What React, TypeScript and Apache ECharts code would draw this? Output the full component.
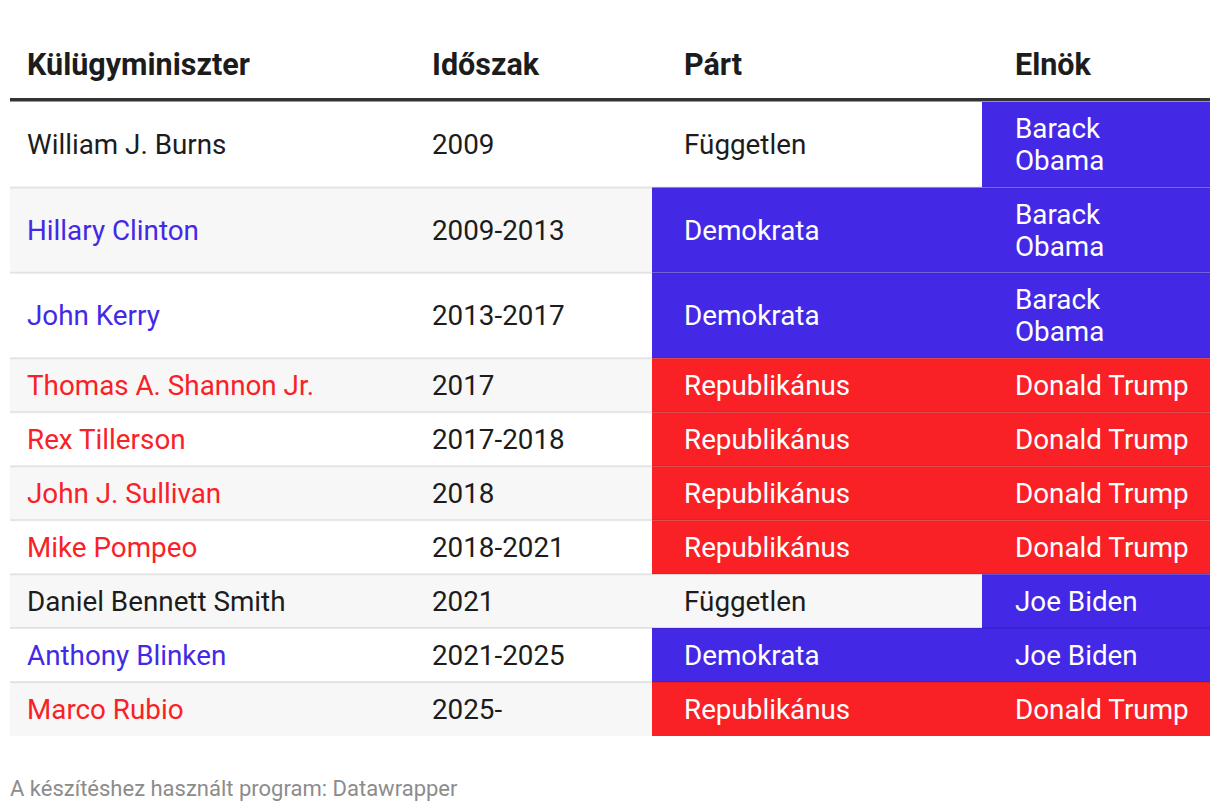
import React, { useEffect, useRef } from "react";
import * as echarts from "echarts";

const headers = ["Külügyminiszter", "Időszak", "Párt", "Elnök"];
const names = [
  "William J. Burns",
  "Hillary Clinton",
  "John Kerry",
  "Thomas A. Shannon Jr.",
  "Rex Tillerson",
  "John J. Sullivan",
  "Mike Pompeo",
  "Daniel Bennett Smith",
  "Anthony Blinken",
  "Marco Rubio",
];
const periods = ["2009", "2009-2013", "2013-2017", "2017", "2017-2018", "2018", "2018-2021", "2021", "2021-2025", "2025-"];
const parties = [
  "Független",
  "Demokrata",
  "Demokrata",
  "Republikánus",
  "Republikánus",
  "Republikánus",
  "Republikánus",
  "Független",
  "Demokrata",
  "Republikánus",
];
const presidents = [
  "Barack Obama",
  "Barack Obama",
  "Barack Obama",
  "Donald Trump",
  "Donald Trump",
  "Donald Trump",
  "Donald Trump",
  "Joe Biden",
  "Joe Biden",
  "Donald Trump",
];
const presidentParty: Record<string, string> = {
  "Barack Obama": "Demokrata",
  "Joe Biden": "Demokrata",
  "Donald Trump": "Republikánus",
};
const footerText = "A készítéshez használt program: Datawrapper";

// styling / layout
const BLUE = "#4329e6";
const RED = "#f92126";
const partyColor: Record<string, string | null> = {
  Független: null,
  Demokrata: BLUE,
  Republikánus: RED,
};
const TEXT = "#1c1c1c";
const FONT_FAMILY = "Roboto, 'Noto Sans', sans-serif";
const FONT_SIZE = 27.8;
const HEADER_SIZE = 30.5;
const LINE_H = 32;
const TABLE_W = 1200;
const colBg = [0, 405, 642, 972];
const colText = [17, 422, 674, 1005];
const PRES_WRAP = 177;

function measure(text: string, font: string): number {
  const c = document.createElement("canvas").getContext("2d");
  if (!c) return text.length * 12;
  c.font = font;
  return c.measureText(text).width;
}

function wrap(text: string, maxW: number): string[] {
  const font = `${FONT_SIZE}px Roboto`;
  const words = text.split(" ");
  const lines: string[] = [];
  let cur = "";
  for (const w of words) {
    const t = cur ? cur + " " + w : w;
    if (cur && measure(t, font) > maxW) {
      lines.push(cur);
      cur = w;
    } else cur = t;
  }
  if (cur) lines.push(cur);
  return lines;
}

export default function App() {
  const ref = useRef<HTMLDivElement>(null);
  useEffect(() => {
    if (!ref.current) return;
    const chart = echarts.init(ref.current, undefined, { renderer: "svg" });

    const presLines = presidents.map((p) => wrap(p, PRES_WRAP));
    const rowH = presLines.map((l) => 54 + (l.length - 1) * 31.5);
    const rows: number[][] = [];
    let acc = 0;
    rowH.forEach((h, i) => {
      rows.push([i, acc, acc + h]);
      acc += h;
    });
    const total = acc;

    const renderItem = (params: any, api: any) => {
      const i = api.value(0);
      const y0 = api.value(1);
      const y1 = api.value(2);
      const top = api.coord([0, y0])[1];
      const bottom = api.coord([0, y1])[1];
      const X = (u: number) => api.coord([u, 0])[0];
      const h = bottom - top;
      const cy = top + h / 2;
      const children: any[] = [];
      children.push({
        type: "rect",
        shape: { x: X(0), y: top, width: X(TABLE_W) - X(0), height: h },
        style: { fill: i % 2 === 1 ? "#f7f7f7" : "#ffffff" },
      });
      const pc = partyColor[parties[i]];
      if (pc) {
        children.push({
          type: "rect",
          shape: { x: X(colBg[2]), y: top, width: X(colBg[3]) - X(colBg[2]), height: h },
          style: { fill: pc },
        });
      }
      const prc = partyColor[presidentParty[presidents[i]]];
      if (prc) {
        children.push({
          type: "rect",
          shape: { x: X(colBg[3]), y: top, width: X(TABLE_W) - X(colBg[3]), height: h },
          style: { fill: prc },
        });
      }
      if (i > 0) {
        children.push({
          type: "rect",
          shape: { x: X(0), y: top - 1, width: X(TABLE_W) - X(0), height: 2 },
          style: { fill: "rgba(0,0,0,0.09)" },
        });
      }
      const txt = (s: string, col: number, fill: string) => ({
        type: "text",
        x: X(colText[col]),
        y: cy,
        style: {
          text: s,
          fill,
          fontSize: FONT_SIZE,
          fontFamily: FONT_FAMILY,
          lineHeight: LINE_H,
          align: "left",
          verticalAlign: "middle",
        },
      });
      children.push(txt(names[i], 0, pc || TEXT));
      children.push(txt(periods[i], 1, TEXT));
      children.push(txt(parties[i], 2, pc ? "#ffffff" : TEXT));
      children.push(txt(presLines[i].join("\n"), 3, prc ? "#ffffff" : TEXT));
      return { type: "group", children };
    };

    const headerTexts = headers.map((hd, j) => ({
      type: "text",
      x: 10 + colText[j],
      y: 64,
      style: {
        text: hd,
        fill: TEXT,
        fontSize: HEADER_SIZE,
        fontWeight: "bold",
        fontFamily: FONT_FAMILY,
        align: "left",
        verticalAlign: "middle",
      },
    }));

    chart.setOption({
      animation: false,
      backgroundColor: "#ffffff",
      grid: { left: 10, top: 102, width: TABLE_W, height: 634 },
      xAxis: { type: "value", min: 0, max: TABLE_W, show: false },
      yAxis: { type: "value", min: 0, max: total, inverse: true, show: false },
      series: [
        {
          type: "custom",
          renderItem,
          data: rows,
          encode: { x: [], y: [1, 2] },
          clip: false,
        },
      ],
      graphic: [
        ...headerTexts,
        {
          type: "rect",
          shape: { x: 10, y: 98, width: TABLE_W, height: 3.5 },
          style: { fill: "#333333" },
        },
        {
          type: "text",
          x: 10,
          y: 788,
          style: {
            text: footerText,
            fill: "#8c8c8c",
            fontSize: 22,
            fontFamily: FONT_FAMILY,
            align: "left",
            verticalAlign: "middle",
          },
        },
      ],
    });
    return () => chart.dispose();
  }, []);
  return (
    <div
      ref={ref}
      style={{ position: "fixed", left: 0, top: 0, width: 1220, height: 812, background: "#fff" }}
    />
  );
}
